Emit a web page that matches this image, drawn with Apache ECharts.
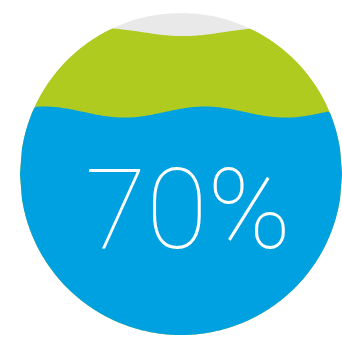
<!DOCTYPE html>
<html>
<head>
<meta charset="utf-8">
<script src="https://cdn.jsdelivr.net/npm/echarts@6/dist/echarts.min.js"></script>
<style>
  html, body { margin: 0; padding: 0; background: #fff; }
  #chart { width: 342px; height: 338px; }
</style>
</head>
<body>
<div id="chart"></div>
<script>
// fill levels (fraction of the circle), back wave first
var levels = [0.935, 0.69];
var labelText = '70%';

var waveColors = ['#b0cb20', '#00a1e0'];
var wavePhases = [-1.65, 0.64];
var waveAmps = [0.012, 0.017];
var bgColor = '#e9e9e9';

var chart = echarts.init(document.getElementById('chart'));

function renderWave(params, api) {
  var idx = api.value(1);
  var level = api.value(0);
  var c = api.coord([0.5, 0.5]);
  var edge = api.coord([1, 0.5]);
  var r = edge[0] - c[0];
  var amp = waveAmps[idx], wl = 0.5;
  var n = 160;
  var top = [], bottom = [];
  for (var i = 0; i <= n; i++) {
    var xd = i / n;
    var px = api.coord([xd, 0])[0];
    var dx = px - c[0];
    var h = Math.sqrt(Math.max(r * r - dx * dx, 0));
    var yd = level + amp * Math.sin(2 * Math.PI * xd / wl + wavePhases[idx]);
    var wy = api.coord([xd, yd])[1];
    var t = Math.min(Math.max(wy, c[1] - h), c[1] + h);
    top.push([px, t]);
    bottom.unshift([px, c[1] + h]);
  }
  var children = [];
  if (idx === 0) {
    children.push({
      type: 'circle',
      shape: { cx: c[0], cy: c[1], r: r },
      style: { fill: bgColor }
    });
  }
  children.push({
    type: 'polygon',
    shape: { points: top.concat(bottom) },
    style: { fill: waveColors[idx] }
  });
  if (idx === levels.length - 1) {
    children.push({
      type: 'text',
      x: c[0] + 7,
      y: c[1] + 46,
      style: {
        text: labelText,
        fontSize: 112,
        fontWeight: 100,
        fontFamily: 'Roboto, "Open Sans", sans-serif',
        fill: '#fff',
        align: 'center',
        verticalAlign: 'middle'
      }
    });
  }
  return { type: 'group', children: children };
}

chart.setOption({
  animation: false,
  grid: { left: 20, top: 11, width: 326, height: 326 },
  xAxis: { type: 'value', min: 0, max: 1, show: false },
  yAxis: { type: 'value', min: 0, max: 1, show: false },
  series: [{
    type: 'custom',
    clip: false,
    renderItem: renderWave,
    data: levels.map(function (v, i) { return [v, i]; })
  }]
});
</script>
</body>
</html>
